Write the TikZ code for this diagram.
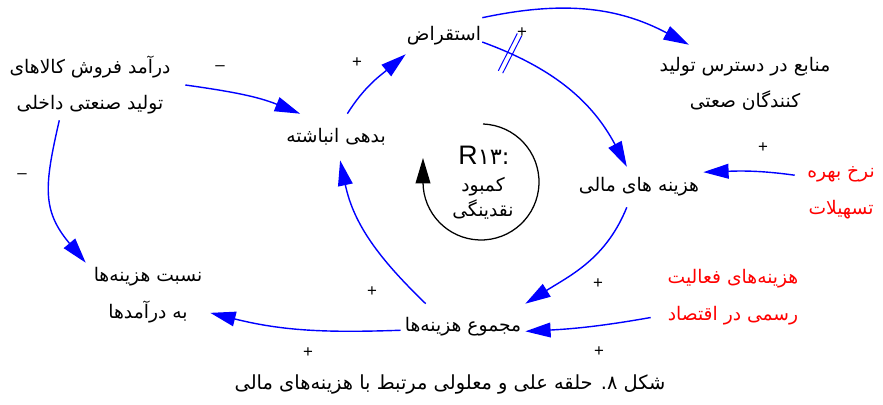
\documentclass[tikz,border=0pt]{standalone}
\usepackage{fontspec}
\usepackage{tikz}
\usetikzlibrary{arrows.meta}
\TeXXeTstate=1
\newfontfamily\persianfont[Script=Arabic]{DejaVu Sans}
\newfontfamily\latinfont{Liberation Sans}
\newcommand{\fatxt}[1]{\beginR #1\endR}

\begin{document}
\begin{tikzpicture}[x=0.025cm, y=0.025cm,
  factor/.style={inner sep=0pt, align=center, font=\persianfont\fontsize{13.3}{26}\selectfont},
  extern/.style={factor, text=red},
  link/.style={blue, line width=1pt, -{Triangle[length=18pt,width=10.5pt]}},
  polarity/.style={inner sep=1pt, font=\latinfont\fontsize{12}{12}\selectfont}]

\useasboundingbox (0,0) rectangle (883,405);

% variables
\node[factor, minimum width=4.75cm, minimum height=1.75cm] (revenue) at (90,320) {\fatxt{درآمد فروش کالاهای}\\ \fatxt{تولید صنعتی داخلی}};
\node[factor, minimum width=2.6cm, minimum height=1.15cm] (debt) at (336,268) {\fatxt{بدهی انباشته}};
\node[factor, minimum width=1.9cm, minimum height=0.9cm] (borrow) at (444,369) {\fatxt{استقراض}};
\node[factor, minimum width=4.5cm, minimum height=1.95cm] (resources) at (745,321) {\fatxt{منابع در دسترس تولید}\\ \fatxt{کنندگان صعتی}};
\node[factor, minimum width=3.2cm, minimum height=1.0cm] (fincost) at (639,218) {\fatxt{هزینه های مالی}};
\node[extern, minimum width=2.3cm, minimum height=1.75cm] (rate) at (841,212) {\fatxt{نرخ بهره}\\ \fatxt{تسهیلات}};
\node[factor, minimum width=3.1cm, minimum height=1.6cm] (ratio) at (148,110) {\fatxt{نسبت هزینه‌ها}\\ \fatxt{به درآمدها}};
\node[factor, minimum width=3.1cm, minimum height=1.15cm] (totalcost) at (463,78) {\fatxt{مجموع هزینه‌ها}};
\node[extern, minimum width=4.1cm, minimum height=1.75cm] (formalcost) at (733,108) {\fatxt{هزینه‌های فعالیت}\\ \fatxt{رسمی در اقتصاد}};

% links
\draw[link] (revenue.east) to[out=-8,in=158] (debt.147);
\draw[link] (revenue.229) to[out=-103,in=130,looseness=1.2] (ratio.north west);
\draw[link] (debt.64) to[out=58,in=-140] (borrow.south west);
\draw[link] (borrow.north east) to[out=12,in=152] (resources.145);
\draw[link] (borrow.-9) to[out=-20,in=118] coordinate[pos=0.14] (delay) (fincost.121);
\draw[link] (rate.159) to[out=172,in=2] (fincost.13);
\draw[link] (fincost.239) to[out=-112,in=32] (totalcost.north east);
\draw[link] (formalcost.194) to[out=190,in=3] (totalcost.-4);
\draw[link] (totalcost.183) to[out=182,in=-14] (ratio.-16);
\draw[link] (totalcost.148) to[out=136,in=-78] (debt.-80);

% delay mark
\draw[blue, line width=0.7pt, shift={(delay)}, rotate=63] (-21,-2.5) -- (21,-2.5) (-21,2.5) -- (21,2.5);

% polarities
\node[polarity] (s1) at (220,337) {–};
\node[polarity] (s2) at (22,229) {–};
\node[polarity] (s3) at (357,342) {+};
\node[polarity] (s4) at (522,372) {+};
\node[polarity] (s5) at (763,257) {+};
\node[polarity] (s6) at (598,121) {+};
\node[polarity] (s7) at (599,53) {+};
\node[polarity] (s8) at (308,52) {+};
\node[polarity] (s9) at (372,113) {+};

% loop
\coordinate (loopc) at (481,223);
\draw[line width=0.9pt, -{Triangle[length=18pt,width=10.5pt]}] ([shift={(88:58)}]loopc) arc[start angle=88, end angle=-180, radius=58] -- ++(0,24);
\node[inner sep=0pt] (loopid) at (484,250) {{\latinfont\fontsize{19}{19}\selectfont R}{\persianfont\fontsize{16}{16}\selectfont ۱۳\kern0pt:}};
\node[factor, font=\persianfont\fontsize{13.3}{18}\selectfont] (looplabel) at (483,207) {\fatxt{کمبود}\\ \fatxt{نقدینگی}};

\node[factor, font=\persianfont\fontsize{13.8}{18}\selectfont] (caption) at (450,20) {\fatxt{شکل ۸\kern0pt. حلقه علی و معلولی مرتبط با هزینه‌های مالی}};

\end{tikzpicture}
\end{document}
